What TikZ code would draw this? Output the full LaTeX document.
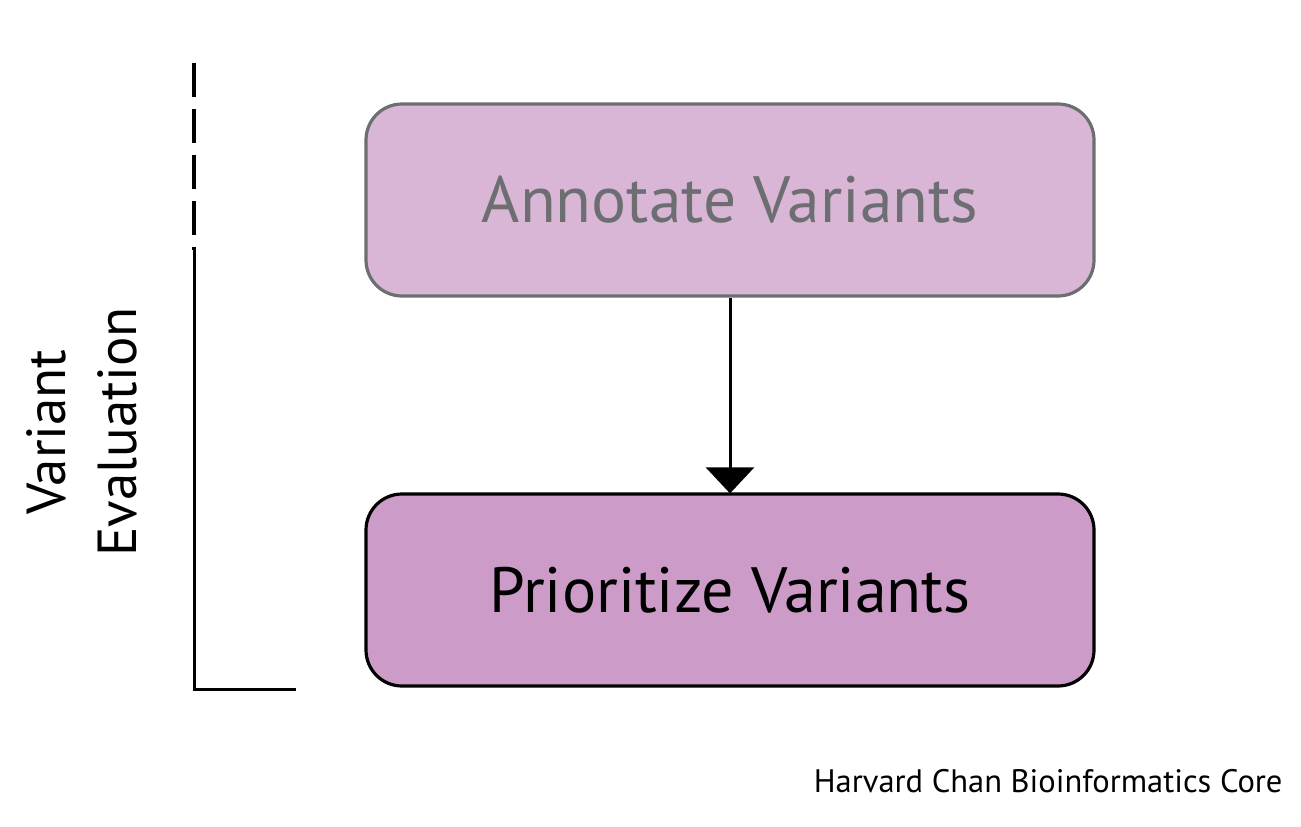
\documentclass[tikz,border=0pt]{standalone}
\usepackage{fontspec}
\setmainfont{PT Sans}
\usetikzlibrary{arrows.meta}
\definecolor{boxA}{HTML}{D9B6D6}
\definecolor{boxB}{HTML}{CD9BC7}
\definecolor{greyline}{HTML}{6D6E71}
\tikzset{
  stepbox/.style={draw, rounded corners=36pt, line width=3.2pt, minimum width=728pt, minimum height=192pt, inner sep=0pt},
}
\begin{document}
\begin{tikzpicture}[x=1pt,y=-1pt]
\useasboundingbox (0,0) rectangle (1301,827);
\node[stepbox, fill=boxA, draw=greyline, text=greyline, font=\fontsize{65.5}{72}\selectfont] (annot) at (730,200) {Annotate Variants};
\node[stepbox, fill=boxB, draw=black, text=black, font=\fontsize{64}{72}\selectfont] (prior) at (730,590) {Prioritize Variants};
\draw[line width=3pt, -{Triangle[width=48pt,length=26pt]}, shorten >=-1pt] (annot.south) -- (prior.north);
\coordinate (top) at (194,63);
\coordinate (mid) at (194,250);
\coordinate (corner) at (194,689);
\coordinate (end) at (296,689);
\draw[line width=4pt, dash pattern=on 34pt off 12pt] (top) -- (mid);
\draw[line width=3pt] (mid) -- (corner) -- (end);
\node[rotate=90, align=center, font=\fontsize{55}{71}\selectfont] (label) at (82,432) {Variant\\Evaluation};
\node[anchor=base east, font=\fontsize{32.5}{38}\selectfont] (credit) at (1286,792) {Harvard Chan Bioinformatics Core};
\end{tikzpicture}
\end{document}
